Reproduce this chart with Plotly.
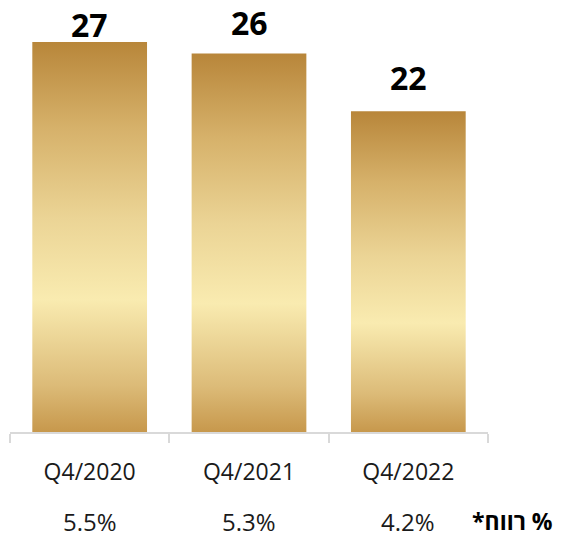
import plotly.graph_objects as go

# data
quarters = ["Q4/2020", "Q4/2021", "Q4/2022"]
values = [27.0, 26.2, 22.2]
value_labels = ["27", "26", "22"]
profit_pct = ["5.5%", "5.3%", "4.2%"]
profit_title = "*רווח %"

GOLD_SCALE = [
    [0.0, "#c7984c"],
    [0.12, "#dcbb78"],
    [0.34, "#f9ebb0"],
    [0.55, "#ebd495"],
    [0.78, "#d6b16a"],
    [1.0, "#b8863a"],
]
FONT = "Open Sans, Liberation Sans, DejaVu Sans, sans-serif"
BAR_W = 0.72
LABEL_SHIFT = [18, 31, 34]  # px above each bar top, as placed in the original

fig = go.Figure()

# bars as filled polygons so they can carry a gold gradient
for i, v in enumerate(values):
    x0, x1 = i - BAR_W / 2, i + BAR_W / 2
    fig.add_trace(go.Scatter(
        x=[x0, x1, x1, x0, x0], y=[0, 0, v, v, 0],
        mode="lines", fill="toself",
        line=dict(width=0, color="rgba(0,0,0,0)"),
        fillgradient=dict(type="vertical", colorscale=GOLD_SCALE),
        hoverinfo="skip", showlegend=False,
    ))
    fig.add_annotation(x=i, y=v, text=value_labels[i], showarrow=False,
                       yanchor="middle", yshift=LABEL_SHIFT[i], borderpad=0,
                       font=dict(family=FONT, size=32, color="#000000", weight="bold"))
    fig.add_annotation(x=i, y=0, text=profit_pct[i], showarrow=False,
                       yanchor="middle", yshift=-89, borderpad=0,
                       font=dict(family=FONT, size=24, color="#1a1a1a"))

fig.add_annotation(x=2.5, y=0, text=profit_title, showarrow=False,
                   xanchor="center", yanchor="middle", xshift=24, yshift=-89,
                   borderpad=0,
                   font=dict(family=FONT, size=23, color="#000000", weight="bold"))

fig.update_xaxes(
    range=[-0.5, len(quarters) - 0.5],
    tickvals=list(range(len(quarters))), ticktext=quarters,
    ticks="", ticklabelstandoff=18,
    tickfont=dict(family=FONT, size=23, color="#1a1a1a"),
    showline=True, linecolor="#d9d9d9", linewidth=2,
    showgrid=False, zeroline=False,
    minor=dict(tickmode="linear", tick0=0.5, dtick=1, ticks="outside",
               ticklen=9, tickwidth=2, tickcolor="#d9d9d9", showgrid=False),
)
fig.update_yaxes(visible=False, range=[0, max(values)])

fig.update_layout(
    width=564, height=537,
    margin=dict(l=10, r=76, t=42, b=105),
    plot_bgcolor="white", paper_bgcolor="white",
    showlegend=False,
)

# drop the browser's default 8px body margin so the figure fills the window
fig.write_html("out.html", config={"displayModeBar": False},
               post_script="document.body.style.margin = '0';")
